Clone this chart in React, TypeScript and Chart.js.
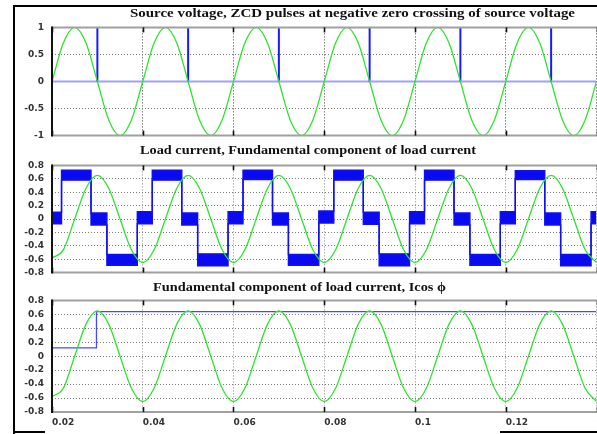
import React, { useEffect, useLayoutEffect, useRef } from 'react';
import { Chart, registerables } from 'chart.js';

Chart.register(...registerables);

// ---------- data ----------
const xTickValues = [0.02, 0.04, 0.06, 0.08, 0.1, 0.12, 0.14];
const xTickLabels = ['0.02', '0.04', '0.06', '0.08', '0.1', '0.12', '0.14'];
const yTicksVoltage = [-1, -0.5, 0, 0.5, 1];
const yLabelsVoltage = ['-1', '-0.5', '0', '0.5', '1'];
const yTicksCurrent = [-0.8, -0.6, -0.4, -0.2, 0, 0.2, 0.4, 0.6, 0.8];
const yLabelsCurrent = ['-0.8', '-0.6', '-0.4', '-0.2', '0', '0.2', '0.4', '0.6', '0.8'];

const sampleTimes = [
  0.02, 0.0225, 0.025, 0.0275, 0.03, 0.0325, 0.035, 0.0375,
  0.04, 0.0425, 0.045, 0.0475, 0.05, 0.0525, 0.055, 0.0575,
  0.06, 0.0625, 0.065, 0.0675, 0.07, 0.0725, 0.075, 0.0775,
  0.08, 0.0825, 0.085, 0.0875, 0.09, 0.0925, 0.095, 0.0975,
  0.1, 0.1025, 0.105, 0.1075, 0.11, 0.1125, 0.115, 0.1175,
  0.12, 0.1225, 0.125, 0.1275, 0.13, 0.1325, 0.135, 0.1375,
  0.14,
];

const sourceVoltage = [
  0, 0.71, 1, 0.71, 0, -0.71, -1, -0.71,
  0, 0.71, 1, 0.71, 0, -0.71, -1, -0.71,
  0, 0.71, 1, 0.71, 0, -0.71, -1, -0.71,
  0, 0.71, 1, 0.71, 0, -0.71, -1, -0.71,
  0, 0.71, 1, 0.71, 0, -0.71, -1, -0.71,
  0, 0.71, 1, 0.71, 0, -0.71, -1, -0.71,
  0,
];

const fundamentalCurrent = [
  -0.58, -0.46, 0, 0.46, 0.65, 0.46, 0, -0.46,
  -0.65, -0.46, 0, 0.46, 0.65, 0.46, 0, -0.46,
  -0.65, -0.46, 0, 0.46, 0.65, 0.46, 0, -0.46,
  -0.65, -0.46, 0, 0.46, 0.65, 0.46, 0, -0.46,
  -0.65, -0.46, 0, 0.46, 0.65, 0.46, 0, -0.46,
  -0.65, -0.46, 0, 0.46, 0.65, 0.46, 0, -0.46,
  -0.65,
];

const zcdPulseTimes = [0.03, 0.05, 0.07, 0.09, 0.11, 0.13];
const zcdPulseHeight = 1;

// load current: switching instants and noisy band (upper / lower envelope) after each instant
const loadEdgeTimes = [
  0.0221, 0.0286, 0.0321, 0.0388,
  0.0421, 0.0486, 0.0521, 0.0588,
  0.0621, 0.0686, 0.0721, 0.0788,
  0.0821, 0.0886, 0.0921, 0.0988,
  0.1021, 0.1086, 0.1121, 0.1188,
  0.1221, 0.1286, 0.1321, 0.1388,
];
const loadUpper = [
  0.1,
  0.73, 0.09, -0.53, 0.11,
  0.73, 0.09, -0.52, 0.11,
  0.73, 0.09, -0.53, 0.12,
  0.73, 0.1, -0.52, 0.11,
  0.73, 0.09, -0.53, 0.11,
  0.72, 0.09, -0.53, 0.11,
];
const loadLower = [
  -0.07,
  0.58, -0.09, -0.69, -0.07,
  0.58, -0.09, -0.7, -0.07,
  0.59, -0.09, -0.69, -0.06,
  0.58, -0.08, -0.7, -0.07,
  0.58, -0.09, -0.69, -0.07,
  0.59, -0.09, -0.7, -0.07,
];

const icosTimes = [0.02, 0.0298, 0.0298, 0.14];
const icosValues = [0.12, 0.12, 0.64, 0.64];

// ---------- helpers ----------
const pairs = (xs: number[], ys: number[]) => xs.map((x, i) => ({ x, y: ys[i] }));

function stepEnvelope(levels: number[]) {
  const pts = [{ x: 0.02, y: levels[0] }];
  loadEdgeTimes.forEach((t, i) => {
    pts.push({ x: t, y: levels[i] });
    pts.push({ x: t, y: levels[i + 1] });
  });
  pts.push({ x: 0.14, y: levels[levels.length - 1] });
  return pts;
}

function zcdPoints() {
  const pts = [{ x: 0.02, y: 0 }];
  zcdPulseTimes.forEach((t) => {
    pts.push({ x: t, y: 0 });
    pts.push({ x: t, y: zcdPulseHeight });
    pts.push({ x: t, y: 0 });
  });
  pts.push({ x: 0.14, y: 0 });
  return pts;
}

const GREEN = 'rgb(45,228,45)';
const TICK_FONT = { family: 'DejaVu Sans', size: 9, weight: 'bold' as const };

const framePlugin = {
  id: 'scopeFrame',
  afterDraw(chart: any) {
    const { ctx, chartArea: a, scales } = chart;
    const line = (x1: number, y1: number, x2: number, y2: number) => {
      ctx.beginPath();
      ctx.moveTo(x1, y1);
      ctx.lineTo(x2, y2);
      ctx.stroke();
    };
    ctx.save();
    ctx.strokeStyle = '#a0a0a0';
    ctx.lineWidth = 2;
    line(a.left, a.top, a.right + 2, a.top);
    line(a.left, a.bottom, a.right + 2, a.bottom);
    ctx.strokeStyle = '#111';
    ctx.lineWidth = 2;
    line(a.left, a.top - 1, a.left, a.bottom + 1);
    ctx.lineWidth = 1.6;
    scales.x.ticks.forEach((t: any) => {
      const px = Math.round(scales.x.getPixelForValue(t.value)) + 0.5;
      line(px, a.top, px, a.top + 5);
      line(px, a.bottom - 5, px, a.bottom);
    });
    ctx.restore();
  },
};

type PlotProps = {
  top: number;
  areaHeight: number;
  bottomSpace: number;
  datasets: any[];
  yMin: number;
  yMax: number;
  yTicks: number[];
  yLabels: string[];
  showX: boolean;
  xGridColor: string;
};

const PAD_TOP = 8;
const CANVAS_W = 640;

function Plot(p: PlotProps) {
  const ref = useRef<HTMLCanvasElement | null>(null);
  const h = PAD_TOP + p.areaHeight + p.bottomSpace;
  useEffect(() => {
    if (!ref.current) return;
    const chart = new Chart(ref.current, {
      type: 'line',
      data: { datasets: p.datasets },
      options: {
        animation: false,
        responsive: false,
        maintainAspectRatio: false,
        devicePixelRatio: 1,
        layout: { padding: { top: PAD_TOP, right: CANVAS_W - 596.5, left: 0, bottom: 0 } },
        plugins: { legend: { display: false }, tooltip: { enabled: false }, title: { display: false } },
        elements: { point: { radius: 0 }, line: { tension: 0 } },
        scales: {
          x: {
            type: 'linear',
            min: 0.02,
            max: 0.14,
            afterBuildTicks: (s: any) => {
              s.ticks = xTickValues.map((v) => ({ value: v }));
            },
            afterFit: (s: any) => {
              s.height = p.bottomSpace;
            },
            grid: { color: p.xGridColor, lineWidth: 1, drawTicks: false },
            border: { display: false, dash: [1, 2] },
            ticks: {
              display: p.showX,
              align: 'start',
              padding: 5,
              maxRotation: 0,
              autoSkip: false,
              font: TICK_FONT,
              color: '#333',
              callback: (_v: any, i: number) => xTickLabels[i],
            },
          },
          y: {
            type: 'linear',
            min: p.yMin,
            max: p.yMax,
            afterBuildTicks: (s: any) => {
              s.ticks = p.yTicks.map((v) => ({ value: v }));
            },
            afterFit: (s: any) => {
              s.width = 52;
            },
            grid: { color: '#7a7a7a', lineWidth: 1, drawTicks: false },
            border: { display: false, dash: [1, 2] },
            ticks: {
              padding: 8,
              autoSkip: false,
              font: TICK_FONT,
              color: '#333',
              callback: (_v: any, i: number) => p.yLabels[i],
            },
          },
        },
      } as any,
      plugins: [framePlugin],
    });
    return () => chart.destroy();
  }, []);
  return (
    <canvas
      ref={ref}
      width={CANVAS_W}
      height={h}
      style={{ position: 'absolute', left: 0, top: p.top - PAD_TOP, width: CANVAS_W, height: h }}
    />
  );
}

function Title({ left, right, top, text }: { left: number; right: number; top: number; text: string }) {
  const ref = useRef<HTMLDivElement | null>(null);
  useLayoutEffect(() => {
    const el = ref.current;
    if (!el) return;
    const w = el.getBoundingClientRect().width;
    if (w > 0) el.style.transform = `scaleX(${(right - left) / w})`;
  }, []);
  return (
    <div
      ref={ref}
      style={{
        position: 'absolute',
        left,
        top,
        fontFamily: '"Liberation Serif", "Times New Roman", serif',
        fontWeight: 'bold',
        fontSize: 12.5,
        lineHeight: '14px',
        whiteSpace: 'nowrap',
        color: '#111',
        transformOrigin: 'left center',
      }}
    >
      {text}
    </div>
  );
}

export default function App() {
  const voltageSets = [
    {
      data: pairs(sampleTimes, sourceVoltage),
      borderColor: GREEN,
      borderWidth: 1.3,
      cubicInterpolationMode: 'monotone',
      fill: false,
    },
    {
      data: zcdPoints(),
      borderColor: '#2020ff',
      borderWidth: 2,
      fill: false,
      segment: {
        borderColor: (c: any) => (c.p0.parsed.x === c.p1.parsed.x ? '#1a1aff' : '#a0a0ff'),
      },
    },
  ];
  const loadSets = [
    {
      data: pairs(sampleTimes, fundamentalCurrent),
      borderColor: GREEN,
      borderWidth: 1.3,
      cubicInterpolationMode: 'monotone',
      fill: false,
    },
    {
      data: stepEnvelope(loadUpper),
      borderColor: '#1010f5',
      borderWidth: 1.4,
      fill: false,
    },
    {
      data: stepEnvelope(loadLower),
      borderColor: '#1010f5',
      borderWidth: 1.4,
      backgroundColor: '#0a0af0',
      fill: 1,
    },
  ];
  const icosSets = [
    {
      data: pairs(sampleTimes, fundamentalCurrent),
      borderColor: GREEN,
      borderWidth: 1.3,
      cubicInterpolationMode: 'monotone',
      fill: false,
    },
    {
      data: pairs(icosTimes, icosValues),
      borderColor: '#4848ff',
      borderWidth: 1.3,
      fill: false,
    },
  ];

  return (
    <div
      style={{
        position: 'fixed',
        left: 0,
        top: 0,
        width: 597,
        height: 434,
        overflow: 'hidden',
        background: '#fff',
      }}
    >
      <div style={{ position: 'absolute', left: 13, top: 5, width: 2, height: 429, background: '#000' }} />
      <div style={{ position: 'absolute', left: 13, top: 5, width: 584, height: 2, background: '#000' }} />
      <div style={{ position: 'absolute', left: 13, top: 431, width: 32, height: 2, background: '#000' }} />
      <div style={{ position: 'absolute', left: 500, top: 431, width: 97, height: 2, background: '#000' }} />

      <Plot
        top={22}
        areaHeight={117}
        bottomSpace={10}
        datasets={voltageSets}
        yMin={-1}
        yMax={1}
        yTicks={yTicksVoltage}
        yLabels={yLabelsVoltage}
        showX={false}
        xGridColor="#444"
      />
      <Plot
        top={159.5}
        areaHeight={116}
        bottomSpace={10}
        datasets={loadSets}
        yMin={-0.8}
        yMax={0.8}
        yTicks={yTicksCurrent}
        yLabels={yLabelsCurrent}
        showX={false}
        xGridColor="#888"
      />
      <Plot
        top={294.5}
        areaHeight={117.5}
        bottomSpace={20}
        datasets={icosSets}
        yMin={-0.8}
        yMax={0.8}
        yTicks={yTicksCurrent}
        yLabels={yLabelsCurrent}
        showX={true}
        xGridColor="#888"
      />

      <Title
        left={130}
        right={575}
        top={6}
        text="Source voltage, ZCD pulses at negative zero crossing of source voltage"
      />
      <Title left={140} right={476} top={143} text="Load current, Fundamental component of load current" />
      <Title left={153} right={446} top={280} text="Fundamental component of load current, Icos ϕ" />
    </div>
  );
}
